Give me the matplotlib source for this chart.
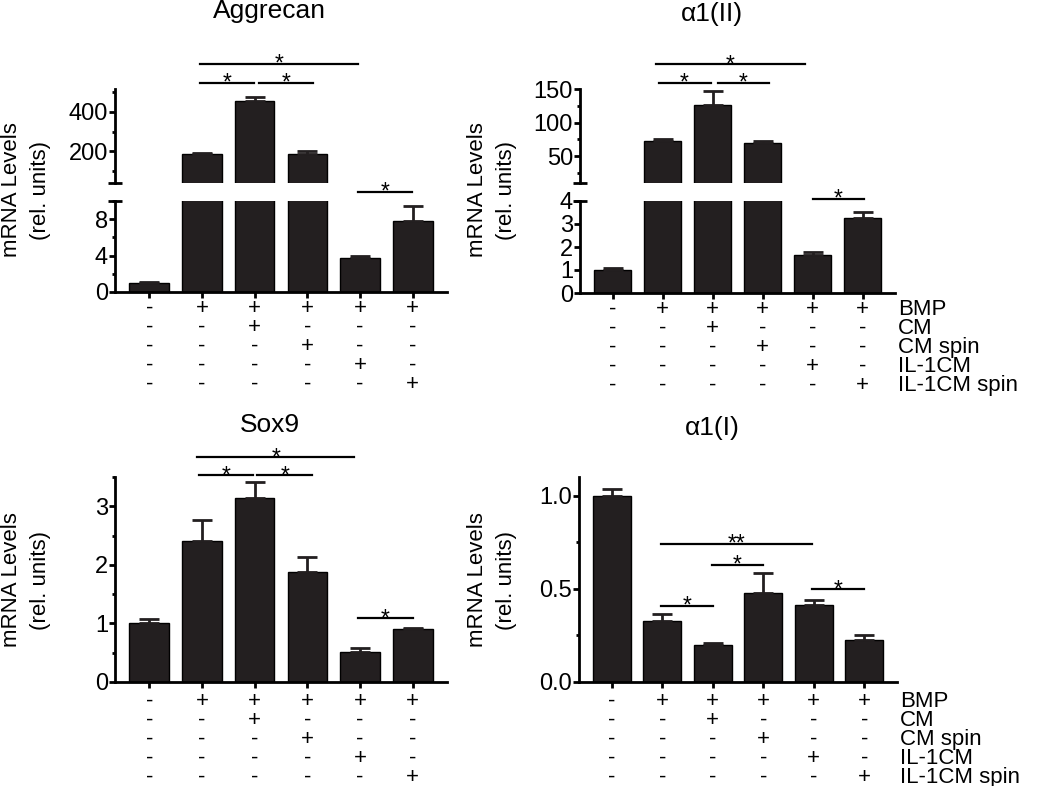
import matplotlib
matplotlib.use('Agg')
import matplotlib.pyplot as plt
import matplotlib.transforms as mtransforms
from matplotlib.ticker import FixedLocator, MultipleLocator, FormatStrFormatter

plt.rcParams['font.family'] = ['Liberation Sans', 'DejaVu Sans']

W, H = 1050, 786
BAR = '#231f20'

groups = [0, 1, 2, 3, 4, 5]
conditions = ['BMP', 'CM', 'CM spin', 'IL-1CM', 'IL-1CM spin']
treatment = [
    ['-', '+', '+', '+', '+', '+'],
    ['-', '-', '+', '-', '-', '-'],
    ['-', '-', '-', '+', '-', '-'],
    ['-', '-', '-', '-', '+', '-'],
    ['-', '-', '-', '-', '-', '+'],
]

aggrecan_mean = [0.95, 185, 455, 187, 3.74, 7.8]
aggrecan_err = [0.2, 8, 18, 14, 0.22, 1.7]
col2a1_mean = [1.02, 72, 126, 69, 1.66, 3.25]
col2a1_err = [0.07, 4, 21, 4, 0.11, 0.28]
sox9_mean = [1.01, 2.41, 3.14, 1.88, 0.52, 0.90]
sox9_err = [0.07, 0.35, 0.28, 0.26, 0.06, 0.03]
col1a1_mean = [1.0, 0.325, 0.20, 0.476, 0.414, 0.227]
col1a1_err = [0.034, 0.04, 0.009, 0.107, 0.026, 0.023]

# brackets: (start, end, y, label)
aggrecan_sig_up = [(0.96, 3.96, 641, '*'), (0.96, 1.98, 545, '*'), (2.08, 3.10, 545, '*')]
aggrecan_sig_low = [(3.96, 4.98, 11.0, '*')]
col2a1_sig_up = [(0.86, 3.85, 187, '*'), (0.92, 1.96, 159, '*'), (2.10, 3.13, 159, '*')]
col2a1_sig_low = [(4.01, 5.03, 4.09, '*')]
sox9_sig = [(0.91, 3.89, 3.84, '*'), (0.95, 1.97, 3.53, '*'), (2.05, 3.09, 3.53, '*'),
            (3.97, 5.0, 1.09, '*')]
col1a1_sig = [(0.98, 3.96, 0.743, '**'), (1.98, 3.0, 0.628, '*'), (0.98, 2.0, 0.41, '*'),
              (3.97, 4.99, 0.497, '*')]

fig = plt.figure(figsize=(W / 100, H / 100), dpi=100)


def px_axes(x0, y0, x1, y1):
    return fig.add_axes([x0 / W, 1 - y1 / H, (x1 - x0) / W, (y1 - y0) / H])


def style(ax, bottom=True):
    for s in ['top', 'right']:
        ax.spines[s].set_visible(False)
    ax.spines['left'].set_linewidth(2)
    ax.spines['bottom'].set_linewidth(2)
    ax.set_xlim(-0.65, 5.65)
    ax.tick_params(axis='y', which='major', length=4, width=2, pad=1, labelsize=17)
    ax.tick_params(axis='y', which='minor', length=2.5, width=2)
    if bottom:
        ax.set_xticks(groups)
        ax.tick_params(axis='x', length=4, width=2, labelbottom=False)
    else:
        ax.spines['bottom'].set_visible(False)
        ax.set_xticks([])


def bars(ax, mean, err):
    ax.bar(groups, mean, width=0.75, color=BAR, edgecolor='black', linewidth=1, zorder=2)
    ax.errorbar(groups, mean, yerr=[[0] * 6, err], fmt='none', ecolor=BAR,
                elinewidth=2, capsize=7, capthick=2, zorder=3)


def brackets(ax, sig):
    for x0, x1, y, lab in sig:
        ax.plot([x0, x1], [y, y], color='black', lw=1.6, clip_on=False)
        ax.annotate(lab, xy=((x0 + x1) / 2, y), xytext=(0, -5), textcoords='offset points',
                    ha='center', va='baseline', fontsize=16.5, annotation_clip=False)


def break_mark(ax, y):
    ax.plot([0], [y], marker='_', ms=9.5, mew=2, color='black',
            transform=ax.transAxes, clip_on=False)


def conditions_table(ax, base_px, label_x=None, step=19):
    tr = mtransforms.blended_transform_factory(ax.transData, fig.transFigure)
    for r, row in enumerate(treatment):
        y = 1 - (base_px + r * step) / H
        for g, sym in zip(groups, row):
            ax.text(g, y, sym, transform=tr, ha='center', va='baseline', fontsize=16,
                    clip_on=False)
        if label_x is not None:
            fig.text(label_x / W, y, conditions[r], ha='left', va='baseline', fontsize=16)


def ylabel(xc, yc):
    fig.text(xc / W, 1 - yc / H, 'mRNA Levels\n(rel. units)', rotation=90,
             ha='center', va='center', fontsize=16, linespacing=1.5)


# ---- Aggrecan (broken axis)
ax_u = px_axes(115, 89, 447, 183)
ax_l = px_axes(115, 201, 447, 292)
for ax in (ax_u, ax_l):
    bars(ax, aggrecan_mean, aggrecan_err)
style(ax_u, bottom=False)
style(ax_l)
ax_u.set_ylim(40, 515)
ax_u.yaxis.set_major_locator(FixedLocator([200, 400]))
ax_u.yaxis.set_minor_locator(FixedLocator([100, 300, 500]))
ax_l.set_ylim(0, 10)
ax_l.yaxis.set_major_locator(FixedLocator([0, 4, 8]))
ax_l.yaxis.set_minor_locator(FixedLocator([2, 6, 10]))
break_mark(ax_u, 0)
break_mark(ax_l, 1)
brackets(ax_u, aggrecan_sig_up)
brackets(ax_l, aggrecan_sig_low)
conditions_table(ax_l, 314)
fig.text(269 / W, 1 - 18 / H, 'Aggrecan', ha='center', va='baseline', fontsize=19)
ylabel(26, 190)

# ---- alpha1(II) (broken axis)
bx_u = px_axes(580, 89, 895, 183)
bx_l = px_axes(580, 201, 895, 293)
for ax in (bx_u, bx_l):
    bars(ax, col2a1_mean, col2a1_err)
style(bx_u, bottom=False)
style(bx_l)
bx_u.set_ylim(10, 150)
bx_u.yaxis.set_major_locator(FixedLocator([50, 100, 150]))
bx_u.yaxis.set_minor_locator(FixedLocator([25, 75, 125]))
bx_l.set_ylim(0, 4)
bx_l.yaxis.set_major_locator(MultipleLocator(1))
break_mark(bx_u, 0)
break_mark(bx_l, 1)
brackets(bx_u, col2a1_sig_up)
brackets(bx_l, col2a1_sig_low)
conditions_table(bx_l, 315, label_x=898)
fig.text(712 / W, 1 - 21 / H, 'α1(II)', ha='center', va='baseline', fontsize=19)
ylabel(492, 190)

# ---- Sox9
cx = px_axes(115, 477, 447, 682)
bars(cx, sox9_mean, sox9_err)
style(cx)
cx.set_ylim(0, 3.5)
cx.yaxis.set_major_locator(MultipleLocator(1))
cx.yaxis.set_minor_locator(MultipleLocator(0.5))
brackets(cx, sox9_sig)
conditions_table(cx, 707)
fig.text(270 / W, 1 - 432 / H, 'Sox9', ha='center', va='baseline', fontsize=19)
ylabel(26, 580)

# ---- alpha1(I)
dx = px_axes(579, 477, 897, 682)
bars(dx, col1a1_mean, col1a1_err)
style(dx)
dx.set_ylim(0, 1.1)
dx.yaxis.set_major_locator(MultipleLocator(0.5))
dx.yaxis.set_minor_locator(MultipleLocator(0.25))
dx.yaxis.set_major_formatter(FormatStrFormatter('%.1f'))
brackets(dx, col1a1_sig)
conditions_table(dx, 707, label_x=900)
fig.text(712 / W, 1 - 435 / H, 'α1(I)', ha='center', va='baseline', fontsize=19)
ylabel(492, 580)

fig.savefig('out.png', dpi=100)
